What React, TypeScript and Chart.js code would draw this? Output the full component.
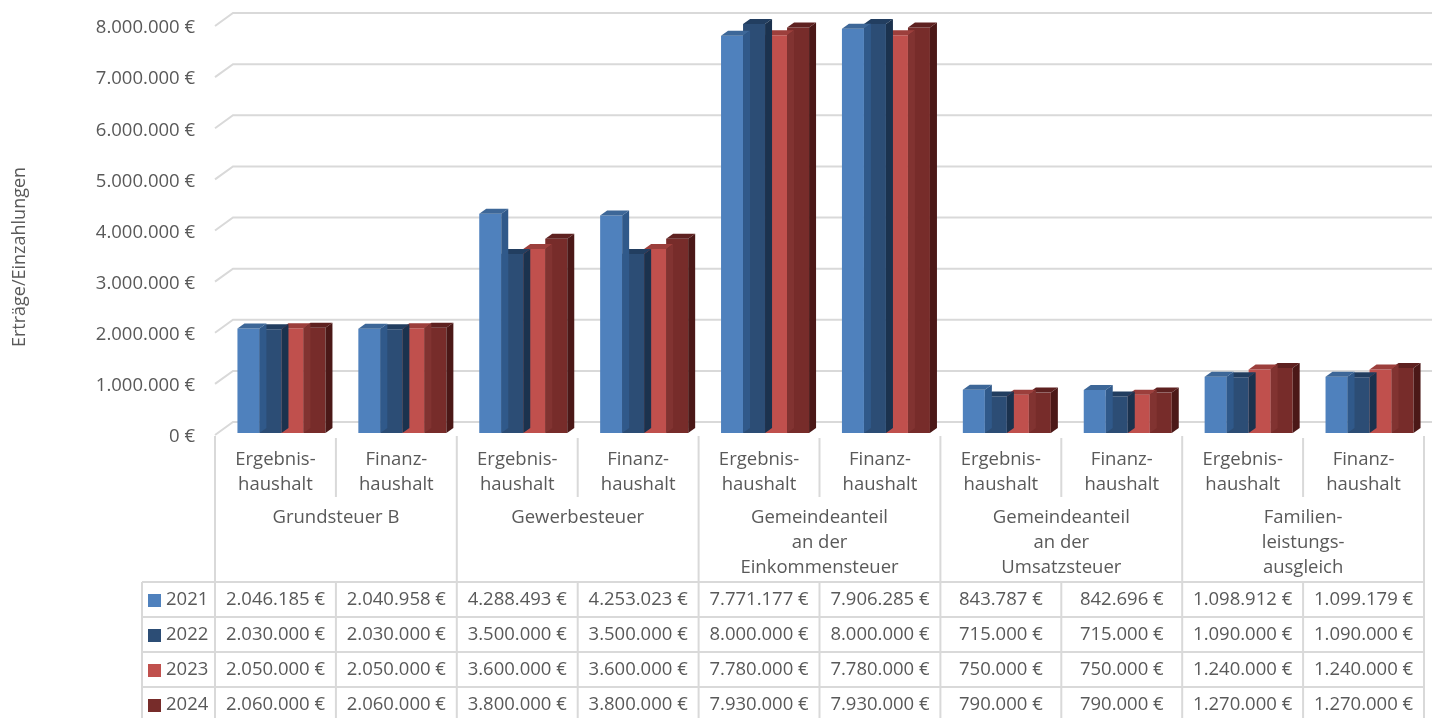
import React, { useEffect, useRef } from 'react';
import Chart from 'chart.js/auto';

const categories = [
  'Ergebnishaushalt', 'Finanzhaushalt', 'Ergebnishaushalt', 'Finanzhaushalt', 'Ergebnishaushalt',
  'Finanzhaushalt', 'Ergebnishaushalt', 'Finanzhaushalt', 'Ergebnishaushalt', 'Finanzhaushalt',
];
const subLabels = [
  ['Ergebnis-', 'haushalt'], ['Finanz-', 'haushalt'],
  ['Ergebnis-', 'haushalt'], ['Finanz-', 'haushalt'],
  ['Ergebnis-', 'haushalt'], ['Finanz-', 'haushalt'],
  ['Ergebnis-', 'haushalt'], ['Finanz-', 'haushalt'],
  ['Ergebnis-', 'haushalt'], ['Finanz-', 'haushalt'],
];
const groups = [
  ['Grundsteuer B'],
  ['Gewerbesteuer'],
  ['Gemeindeanteil', 'an der', 'Einkommensteuer'],
  ['Gemeindeanteil', 'an der', 'Umsatzsteuer'],
  ['Familien-', 'leistungs-', 'ausgleich'],
];
const years = ['2021', '2022', '2023', '2024'];
const values2021 = [2046185, 2040958, 4288493, 4253023, 7771177, 7906285, 843787, 842696, 1098912, 1099179];
const values2022 = [2030000, 2030000, 3500000, 3500000, 8000000, 8000000, 715000, 715000, 1090000, 1090000];
const values2023 = [2050000, 2050000, 3600000, 3600000, 7780000, 7780000, 750000, 750000, 1240000, 1240000];
const values2024 = [2060000, 2060000, 3800000, 3800000, 7930000, 7930000, 790000, 790000, 1270000, 1270000];
const series = [values2021, values2022, values2023, values2024];
const yTicks = [0, 1000000, 2000000, 3000000, 4000000, 5000000, 6000000, 7000000, 8000000];

const frontColors = ['#4F81BD', '#2C4D75', '#C0504D', '#772C2A'];
const topColors = ['#3D6798', '#223E60', '#9C3F3C', '#5E2120'];
const sideColors = ['#30598A', '#1B324E', '#813331', '#4B1817'];

const TEXT = '#595959';
const LINE = '#d9d9d9';
const FONT = '"Open Sans", sans-serif';

const fmt = (v: number) => String(v).replace(/\B(?=(\d{3})+(?!\d))/g, '.') + ' €';

// depth of a bar and of the back wall
const BX = 7, BY = 5;
const WX = 18, WY = 12;

const wallPlugin = {
  id: 'wall',
  beforeDatasetsDraw(chart: any) {
    const { ctx } = chart;
    const y = chart.scales.y;
    const left = 215;
    ctx.save();
    ctx.strokeStyle = LINE;
    ctx.lineWidth = 2;
    ctx.fillStyle = TEXT;
    ctx.font = `18.5px ${FONT}`;
    ctx.textAlign = 'right';
    ctx.textBaseline = 'middle';
    yTicks.forEach((v) => {
      const p = y.getPixelForValue(v);
      const front = p + 2;
      const back = front - WY - 1;
      ctx.beginPath();
      ctx.moveTo(left, front);
      ctx.lineTo(left + WX, back);
      ctx.lineTo(chart.width, back);
      ctx.stroke();
      ctx.fillText(fmt(v), 195, front + 2);
    });
    ctx.save();
    ctx.translate(20, 257);
    ctx.rotate(-Math.PI / 2);
    ctx.textAlign = 'center';
    ctx.font = `18px ${FONT}`;
    ctx.fillText('Erträge/Einzahlungen', 0, 0);
    ctx.restore();
    ctx.restore();
  },
};

const bar3dPlugin = {
  id: 'bar3d',
  afterDatasetDraw(chart: any, args: any) {
    const { ctx } = chart;
    const i = args.index;
    const meta = chart.getDatasetMeta(i);
    ctx.save();
    meta.data.forEach((bar: any) => {
      const l = bar.x - bar.width / 2;
      const r = bar.x + bar.width / 2;
      const t = bar.y;
      const b = bar.base;
      ctx.fillStyle = topColors[i];
      ctx.beginPath();
      ctx.moveTo(l, t);
      ctx.lineTo(l + BX, t - BY);
      ctx.lineTo(r + BX, t - BY);
      ctx.lineTo(r, t);
      ctx.closePath();
      ctx.fill();
      ctx.fillStyle = sideColors[i];
      ctx.beginPath();
      ctx.moveTo(r, t);
      ctx.lineTo(r + BX, t - BY);
      ctx.lineTo(r + BX, b - BY);
      ctx.lineTo(r, b);
      ctx.closePath();
      ctx.fill();
    });
    ctx.restore();
  },
};

const tablePlugin = {
  id: 'table',
  afterDraw(chart: any) {
    const { ctx } = chart;
    const x = chart.scales.x;
    const n = categories.length;
    const colW = (x.right - x.left) / n;
    const shift = 6;
    const colLeft = (i: number) => x.left + colW * i - shift;
    const headTop = 436;
    const subBottom = 497;
    const rowTop = 582;
    const rowH = 35;
    const bottom = chart.height;
    const legendLeft = 142;
    const right = colLeft(n);

    ctx.save();
    ctx.strokeStyle = LINE;
    ctx.lineWidth = 2;
    const line = (x1: number, y1: number, x2: number, y2: number) => {
      ctx.beginPath();
      ctx.moveTo(x1, y1);
      ctx.lineTo(x2, y2);
      ctx.stroke();
    };
    for (let i = 0; i <= n; i++) {
      const cx = colLeft(i);
      if (i % 2 === 0) {
        line(cx, headTop, cx, bottom);
      } else {
        line(cx, headTop + 2, cx, subBottom);
        line(cx, rowTop, cx, bottom);
      }
    }
    line(legendLeft, rowTop, legendLeft, bottom);
    years.forEach((_, r) => line(legendLeft, rowTop + r * rowH, right, rowTop + r * rowH));

    ctx.fillStyle = TEXT;
    ctx.font = `18.5px ${FONT}`;
    ctx.textAlign = 'center';
    ctx.textBaseline = 'middle';
    subLabels.forEach((lines, i) => {
      const cx = colLeft(i) + colW / 2;
      lines.forEach((s, k) => ctx.fillText(s, cx, 460 + k * 25));
    });
    groups.forEach((lines, g) => {
      const cx = colLeft(g * 2) + colW;
      lines.forEach((s, k) => ctx.fillText(s, cx, 518 + k * 25));
    });
    series.forEach((vals, r) => {
      const cy = rowTop + r * rowH + 18;
      vals.forEach((v, i) => ctx.fillText(fmt(v), colLeft(i) + colW / 2, cy));
    });
    ctx.textAlign = 'left';
    years.forEach((yr, r) => {
      const cy = rowTop + r * rowH + 18;
      ctx.fillStyle = frontColors[r];
      ctx.fillRect(148, cy - 6, 13, 13);
      ctx.fillStyle = TEXT;
      ctx.fillText(yr, 166, cy);
    });
    ctx.restore();
  },
};

const App: React.FC = () => {
  const chartRef = useRef<HTMLCanvasElement | null>(null);
  const chartInstance = useRef<Chart | null>(null);

  useEffect(() => {
    if (!chartRef.current) return;
    if (chartInstance.current) chartInstance.current.destroy();
    const ctx = chartRef.current.getContext('2d');
    if (!ctx) return;
    chartInstance.current = new Chart(ctx, {
      type: 'bar',
      data: {
        labels: categories,
        datasets: years.map((yr, i) => ({
          label: yr,
          data: series[i],
          backgroundColor: frontColors[i],
          borderWidth: 0,
          categoryPercentage: 0.728,
          barPercentage: 1.0,
        })),
      },
      options: {
        responsive: false,
        animation: false,
        layout: { padding: { top: 24, bottom: 285, left: 221, right: 2 } },
        plugins: { legend: { display: false }, tooltip: { enabled: false } },
        scales: {
          x: { display: false },
          y: { display: false, min: 0, max: 8000000 },
        },
      },
      plugins: [wallPlugin, bar3dPlugin, tablePlugin],
    });

    return () => {
      if (chartInstance.current) {
        chartInstance.current.destroy();
        chartInstance.current = null;
      }
    };
  }, []);

  return (
    <div style={{ position: 'absolute', left: 0, top: 0, width: 1432, height: 718, background: '#fff' }}>
      <canvas ref={chartRef} width={1432} height={718} />
    </div>
  );
};

export default App;
